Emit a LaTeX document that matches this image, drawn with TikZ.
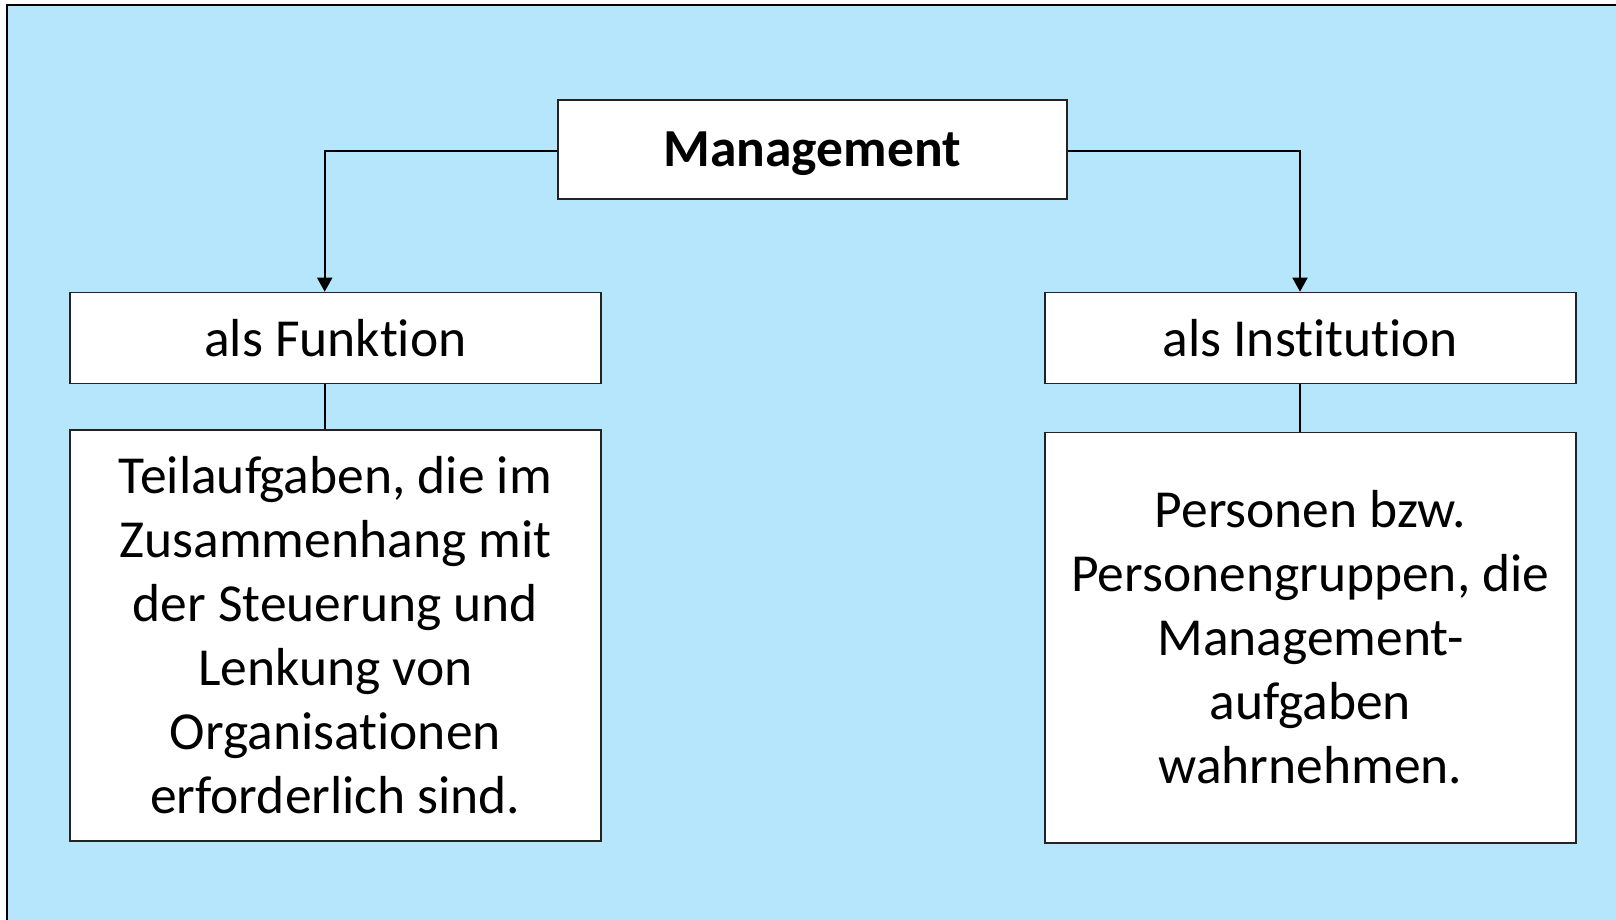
\documentclass[tikz,border=0pt]{standalone}
\usepackage{fontspec}
\setmainfont{Carlito}[Ligatures={NoCommon,NoRequired,NoContextual}]
\usetikzlibrary{arrows.meta}
\definecolor{skyfill}{RGB}{181,230,252}
\definecolor{boxline}{RGB}{35,35,35}
\begin{document}
\begin{tikzpicture}[x=1pt,y=-1pt,
  box/.style={draw=boxline, line width=1.6pt, fill=white, inner sep=0pt,
    align=center, font=\fontsize{53.5}{64}\selectfont},
  link/.style={draw=black, line width=1.8pt},
  arrowlink/.style={link, -{Triangle[width=15pt,length=14pt]}}]
\useasboundingbox (0,0) rectangle (1616,919);
\fill[white] (0,0) rectangle (1616,919);
% light blue panel, its right and bottom edges run off the page
\draw[fill=skyfill, draw=black, line width=2.2pt] (6.7,4.8) rectangle (1640,940);

\node[box, minimum width=509pt, minimum height=99pt, text depth=0pt,
  font=\fontsize{53.5}{64}\selectfont\bfseries] (mgmt) at (812.2,149.5) {Management};

\node[box, minimum width=530.7pt, minimum height=91pt] (funk) at (335.4,338) {als Funktion};
\node[box, minimum width=530.7pt, minimum height=91pt] (inst) at (1310.4,338) {als Institution};

\node[box, minimum width=530.7pt, minimum height=411pt] (funkdesc) at (335.4,635.3)
  {Teilaufgaben, die im\\Zusammenhang mit\\der Steuerung und\\Lenkung von\\Organisationen\\erforderlich sind.};
\node[box, minimum width=530.7pt, minimum height=410.4pt] (instdesc) at (1310.4,637.5)
  {Personen bzw.\\Personengruppen, die\\Management-\\aufgaben\\wahrnehmen.};

\draw[arrowlink] ([yshift=-1.8pt]mgmt.west) -| ([xshift=-10.7pt]funk.north);
\draw[arrowlink] ([yshift=-1.8pt]mgmt.east) -| ([xshift=-10.4pt]inst.north);
\draw[link] ([xshift=-10.7pt]funk.south) -- ([xshift=-10.7pt]funkdesc.north);
\draw[link] ([xshift=-10.4pt]inst.south) -- ([xshift=-10.4pt]instdesc.north);
\end{tikzpicture}
\end{document}
